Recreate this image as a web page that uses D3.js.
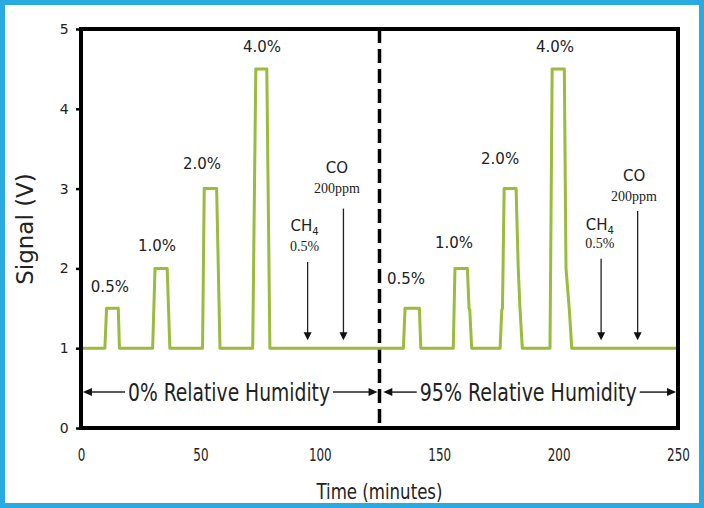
<!DOCTYPE html>
<html>
<head>
<meta charset="utf-8">
<script src="https://cdn.jsdelivr.net/npm/d3@7"></script>
<style>
  body { margin: 0; background: #fff; }
  svg { display: block; }
</style>
</head>
<body>
<div id="chart"></div>
<script>
// signal trace (minutes, volts)
var time = [0, 10.0, 10.7, 15.6, 16.1, 30.0, 31.0, 36.1, 37.2, 50.9, 51.6, 56.8, 58.2,
  71.9, 73.2, 77.8, 79.1, 135.0, 135.7, 141.7, 142.3, 155.9, 156.6, 161.8, 162.5, 162.8, 163.6,
  175.5, 176.2, 176.5, 177.2, 182.2, 183.1, 183.8, 184.8, 196.4, 197.3, 202.4, 203.1, 204.5, 205.5, 250];
var signal = [1, 1, 1.5, 1.5, 1, 1, 2, 2, 1, 1, 3, 3, 1,
  1, 4.5, 4.5, 1, 1, 1.5, 1.5, 1, 1, 2, 2, 1.5, 1.48, 1,
  1, 1.48, 1.5, 3, 3, 2, 1.52, 1, 1, 4.5, 4.5, 2, 1.48, 1, 1];

var xTicks = [0, 50, 100, 150, 200, 250];
var yTicks = [0, 1, 2, 3, 4, 5];

// concentration labels above the peaks
var peakText = ["0.5%", "1.0%", "2.0%", "4.0%", "0.5%", "1.0%", "2.0%", "4.0%"];
var peakT = [12.1, 31.8, 50.7, 75.8, 136.1, 156.2, 175.5, 198.5];
var peakV = [1.71, 2.22, 3.25, 4.71, 1.8, 2.25, 3.31, 4.71];

// CH4 / CO exposure arrows
var gasT = [94.9, 109.9, 217.8, 233.1];
var gasStart = [2.08, 2.75, 2.12, 2.72];
var gasTip = 1.1;

var humidText = ["0% Relative Humidity", "95% Relative Humidity"];
var humidFrom = [0.8, 126.6];
var humidTo = [124.2, 249.2];
var humidMid = [62, 187.3];
var humidV = 0.45;
var switchT = 125;

var W = 704, H = 508;
var margin = {top: 29, right: 26, bottom: 80, left: 81};
var narrow = "DejaVu Sans Condensed, DejaVu Sans, sans-serif";

var svg = d3.select("#chart").append("svg").attr("width", W).attr("height", H);

svg.append("rect").attr("x", 2.5).attr("y", 2.5).attr("width", W - 5).attr("height", H - 5)
  .attr("fill", "#fff").attr("stroke", "#29abe2").attr("stroke-width", 5);

var x = d3.scaleLinear().domain([0, 250]).range([margin.left, W - margin.right]);
var y = d3.scaleLinear().domain([0, 5]).range([H - margin.bottom, margin.top]);

// axes
var yAxis = svg.append("g").attr("transform", "translate(" + margin.left + ",0)")
  .call(d3.axisLeft(y).tickValues(yTicks).tickFormat(d3.format("d")).tickSize(5).tickPadding(9));
yAxis.select(".domain").remove();
yAxis.selectAll(".tick line").attr("stroke", "#000").attr("stroke-width", 2.5);
yAxis.selectAll("text").attr("font-family", "DejaVu Sans").attr("font-size", 14)
  .attr("fill", "#222").attr("text-anchor", "middle").attr("dx", "-0.2em");

var xAxis = svg.append("g").attr("transform", "translate(0," + (H - margin.bottom) + ")")
  .call(d3.axisBottom(x).tickValues(xTicks).tickSize(0).tickPadding(21));
xAxis.select(".domain").remove();
xAxis.selectAll("text").attr("font-family", narrow)
  .attr("font-size", 17).attr("fill", "#222").attr("transform", "scale(0.78,1)");

svg.append("text").attr("x", (x(0) + x(250)) / 2).attr("y", 499)
  .attr("text-anchor", "middle").attr("font-family", narrow)
  .attr("font-size", 21).attr("fill", "#222")
  .attr("textLength", 126).attr("lengthAdjust", "spacingAndGlyphs").text("Time (minutes)");

svg.append("text").attr("transform", "translate(33,229) rotate(-90)")
  .attr("text-anchor", "middle").attr("font-family", "DejaVu Sans")
  .attr("font-size", 23).attr("fill", "#222").text("Signal (V)");

// humidity switch
svg.append("line").attr("x1", x(switchT)).attr("x2", x(switchT))
  .attr("y1", y(5)).attr("y2", y(0))
  .attr("stroke", "#000").attr("stroke-width", 3.5).attr("stroke-dasharray", "14,6");

// signal trace
var line = d3.line().x(function (d, i) { return x(time[i]); }).y(function (d) { return y(d); });
svg.append("path").datum(signal).attr("d", line)
  .attr("fill", "none").attr("stroke", "#9bbb3d").attr("stroke-width", 3)
  .attr("stroke-linejoin", "round");

// frame
svg.append("rect").attr("x", x(0)).attr("y", y(5))
  .attr("width", x(250) - x(0)).attr("height", y(0) - y(5))
  .attr("fill", "none").attr("stroke", "#000").attr("stroke-width", 4);

// peak labels
svg.selectAll(".peak").data(peakText).enter().append("text")
  .attr("class", "peak")
  .attr("x", function (d, i) { return x(peakT[i]); })
  .attr("y", function (d, i) { return y(peakV[i]); })
  .attr("text-anchor", "middle").attr("font-family", "DejaVu Sans")
  .attr("font-size", 15).attr("fill", "#222").text(function (d) { return d; });

// gas labels
function gasLabel(t, v, v2, isCO) {
  var top = svg.append("text").attr("x", x(t)).attr("y", y(v))
    .attr("text-anchor", "middle").attr("font-family", "DejaVu Sans")
    .attr("font-size", 15).attr("fill", "#222");
  if (isCO) {
    top.text("CO");
  } else {
    top.append("tspan").text("CH");
    top.append("tspan").attr("font-size", 10).attr("dy", 4).text("4");
  }
  svg.append("text").attr("x", x(t)).attr("y", y(v2))
    .attr("text-anchor", "middle").attr("font-family", "Liberation Serif, serif")
    .attr("font-size", 14).attr("fill", "#222").text(isCO ? "200ppm" : "0.5%");
}
gasLabel(93.6, 2.47, 2.22, false);
gasLabel(107.2, 3.2, 2.95, true);
gasLabel(217.3, 2.48, 2.26, false);
gasLabel(231.6, 3.09, 2.84, true);

// vertical arrows
gasT.forEach(function (t, i) {
  var px = x(t), tip = y(gasTip);
  svg.append("line").attr("x1", px).attr("x2", px)
    .attr("y1", y(gasStart[i])).attr("y2", tip - 5)
    .attr("stroke", "#222").attr("stroke-width", 1.3);
  svg.append("path")
    .attr("d", "M" + (px - 4) + "," + (tip - 8) + "L" + (px + 4) + "," + (tip - 8) + "L" + px + "," + tip + "Z")
    .attr("fill", "#111");
});

// humidity arrows
function head(px, py, dir) {
  svg.append("path")
    .attr("d", "M" + px + "," + py + "L" + (px - dir * 9) + "," + (py - 4) + "L" + (px - dir * 9) + "," + (py + 4) + "Z")
    .attr("fill", "#111");
}
var humidWidth = [202, 217];
humidText.forEach(function (txt, i) {
  var py = y(humidV);
  var t = svg.append("text").attr("x", x(humidMid[i])).attr("y", py + 9)
    .attr("text-anchor", "middle").attr("font-family", narrow)
    .attr("font-size", 25).attr("fill", "#222")
    .attr("textLength", humidWidth[i]).attr("lengthAdjust", "spacingAndGlyphs").text(txt);
  var bb = t.node().getBBox();
  var x1 = x(humidFrom[i]), x2 = x(humidTo[i]);
  svg.append("line").attr("x1", x1 + 6).attr("x2", bb.x - 3).attr("y1", py).attr("y2", py)
    .attr("stroke", "#222").attr("stroke-width", 1.5);
  svg.append("line").attr("x1", bb.x + bb.width + 3).attr("x2", x2 - 6).attr("y1", py).attr("y2", py)
    .attr("stroke", "#222").attr("stroke-width", 1.5);
  head(x1, py, -1);
  head(x2, py, 1);
});
</script>
</body>
</html>
